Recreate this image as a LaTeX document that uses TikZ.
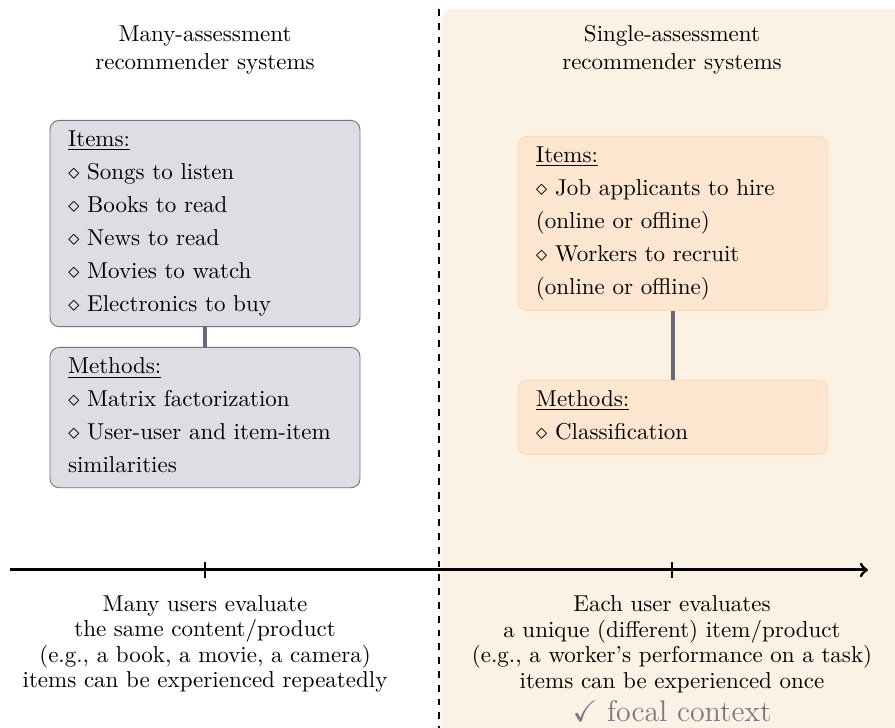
\documentclass[tikz,border=0pt]{standalone}
\usepackage{amssymb}
\definecolor{focalbg}{RGB}{252,241,229}
\definecolor{focalfill}{RGB}{253,230,207}
\definecolor{focaledge}{RGB}{250,218,186}
\definecolor{manyfill}{RGB}{221,221,227}
\definecolor{manyedge}{RGB}{115,115,130}
\definecolor{linkgray}{RGB}{105,105,120}
\definecolor{focalgray}{RGB}{120,120,135}
\tikzset{
	kindbox/.style={draw, rounded corners=4pt, anchor=north, align=left,
		text width=4.19cm, inner xsep=0.275cm, inner ysep=4.4pt,
		execute at begin node=\setlength{\baselineskip}{14.4pt},
		execute at end node=\rule[-2.1pt]{0pt}{0pt}},
	manybox/.style={kindbox, fill=manyfill, draw=manyedge},
	singlebox/.style={kindbox, fill=focalfill, draw=focaledge},
	link/.style={draw=linkgray, line width=1.6pt},
	caption/.style={align=center},
	bottomtext/.style={caption, execute at begin node=\setlength{\baselineskip}{11.1pt}}
}
\begin{document}
\begin{tikzpicture}[>=to]
		\useasboundingbox (0, 0) rectangle (13.685, 11.131);
		\fill[focalbg, rounded corners=6pt] (6.743, -0.5) rectangle (14.2, 10.994);
		\draw[thick, dashed] (6.713, 10.994) coordinate (T) -- (6.713, 0) coordinate (U);
		% headings
		\node[caption] (manytitle) at (3.135, 10.367) {Many-assessment\\recommender systems};
		\node[caption] (singletitle) at (10.275, 10.367) {Single-assessment\\recommender systems};
		% boxes
		\node[manybox] (manyitems) at (3.135, 9.297) {\underline{Items:}\\
			$\diamond$ Songs to listen\\
			$\diamond$ Books to read\\
			$\diamond$ News to read\\
			$\diamond$ Movies to watch\\
			$\diamond$ Electronics to buy};
		\node[manybox] (manymethods) at (3.135, 5.825) {\underline{Methods:}\\
			$\diamond$ Matrix factorization\\
			$\diamond$ User-user and item-item\\
			similarities};
		\node[singlebox] (singleitems) at (10.290, 9.052) {\underline{Items:}\\
			$\diamond$ Job applicants to hire\\
			(online or offline)\\
			$\diamond$ Workers to recruit\\
			(online or offline)};
		\node[singlebox] (singlemethods) at (10.290, 5.321) {\underline{Methods:}\\
			$\diamond$ Classification};
		\draw[link] (manyitems) -- (manymethods);
		\draw[link] (singleitems) -- (singlemethods);
		% axis
		\draw[line width=1.3pt, ->] (0.153, 2.416) coordinate (A) -- (13.272, 2.416) coordinate (B);
		\draw[line width=1pt] (3.135, 2.294) coordinate (P) -- (3.135, 2.538)
			(10.275, 2.294) coordinate (Q) -- (10.275, 2.538);
		\node[bottomtext] (manytext) at (3.135, 1.283) {Many users evaluate\\the same content/product\\
			(e.g., a book, a movie, a camera)\\items can be experienced repeatedly};
		\node[bottomtext] (singletext) at (10.275, 1.283) {Each user evaluates\\a unique (different) item/product\\
			(e.g., a worker's performance on a task)\\items can be experienced once};
		\node[text=focalgray, font=\fontsize{13}{15}\selectfont, anchor=base] (focal) at (10.275, 0.096)
			{$\checkmark$ focal context};
		\end{tikzpicture}
\end{document}
